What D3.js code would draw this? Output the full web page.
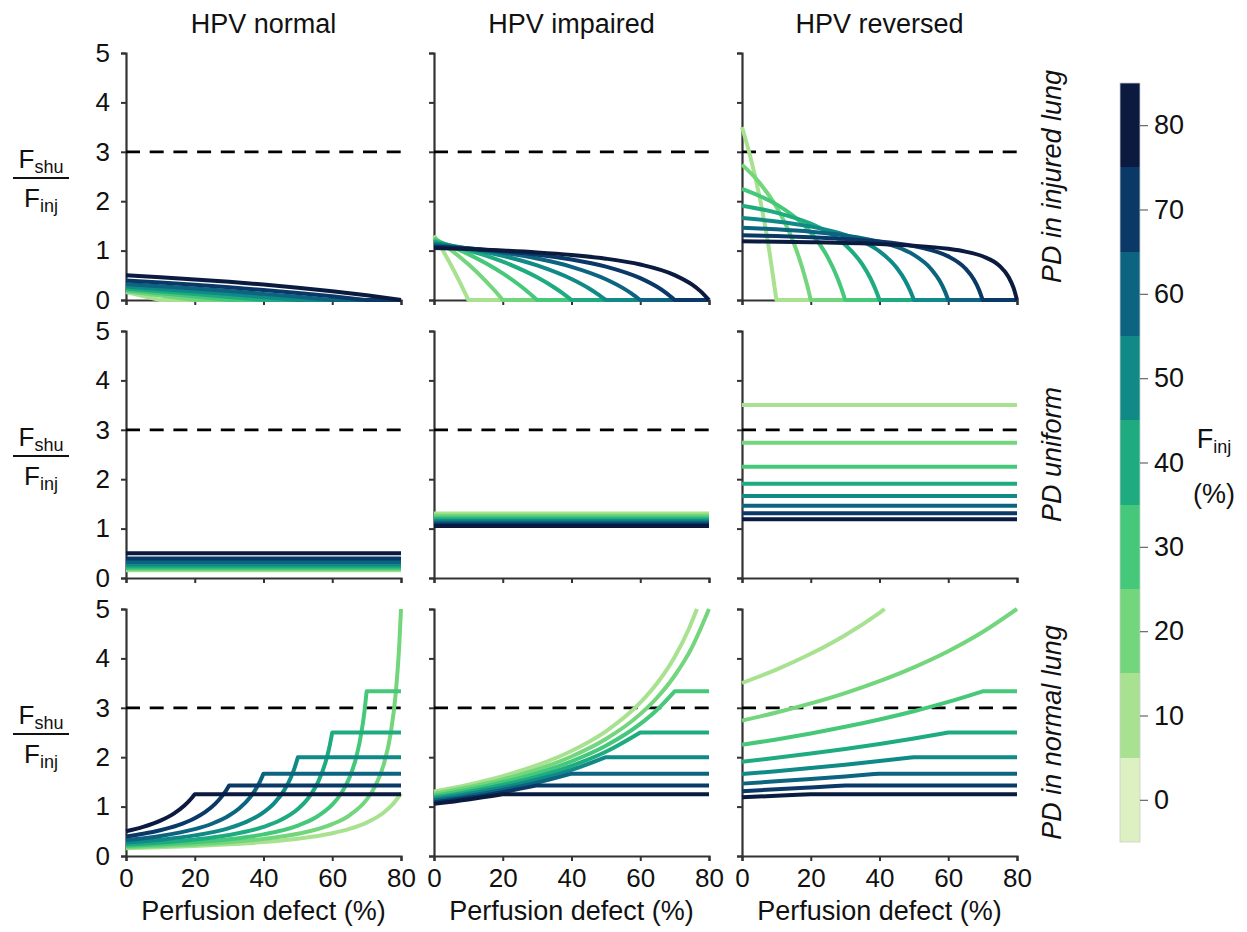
<!DOCTYPE html>
<html><head><meta charset="utf-8">
<script src="https://cdn.jsdelivr.net/npm/d3@7"></script>
<style>body{margin:0;background:#fff}svg{display:block}text{font-family:"Liberation Sans",Arial,sans-serif;fill:#111}</style>
</head><body><svg id="c" width="1247" height="932"></svg>
<script>
const fInj = [10,20,30,40,50,60,70,80];
const lineColors = ["#a8e290","#73d67c","#45c879","#1eab80","#0f8a86","#0c6481","#0b3967","#0b1a3f"];
const cbarValues = [0,10,20,30,40,50,60,70,80];
const cbarColors = ["#dcf0c2","#a8e290","#73d67c","#45c879","#1eab80","#0f8a86","#0c6481","#0b3967","#0b1a3f"];
const colTitles = ["HPV normal","HPV impaired","HPV reversed"];
const rowTitles = ["PD in injured lung","PD uniform","PD in normal lung"];
const xTicks = [0,20,40,60,80];
const yTicks = [0,1,2,3,4,5];
const threshold = 3;

const normalInjured = [
 [[0,.159],[5,.080],[10,0],[80,0]],
 [[0,.178],[10,.091],[20,0],[80,0]],
 [[0,.203],[10,.138],[20,.070],[30,0],[80,0]],
 [[0,.233],[10,.179],[20,.122],[30,.063],[40,0],[80,0]],
 [[0,.273],[10,.224],[20,.173],[30,.119],[40,.061],[50,0],[80,0]],
 [[0,.324],[10,.279],[20,.231],[30,.180],[40,.124],[50,.065],[60,0],[80,0]],
 [[0,.395],[10,.353],[20,.307],[30,.256],[40,.201],[50,.141],[60,.074],[70,0],[80,0]],
 [[0,.501],[10,.461],[20,.417],[30,.368],[40,.313],[50,.250],[60,.179],[70,.096],[80,0]]
];
const normalUniform = [.159,.178,.203,.233,.273,.324,.395,.501];
const normalNormal = [
 [[0,.159],[10,.178],[20,.203],[30,.236],[40,.282],[50,.350],[60,.461],[65,.548],[70,.676],[75,.881],[77.5,1.039],[80,1.266]],
 [[0,.178],[10,.203],[20,.235],[30,.279],[40,.345],[50,.449],[60,.645],[65,.824],[70,1.142],[72.5,1.415],[75,1.859],[77,2.483],[78.5,3.318],[79.5,4.277],[80,5.0]],
 [[0,.203],[10,.234],[20,.277],[30,.339],[40,.437],[50,.616],[55,.773],[60,1.039],[62.5,1.255],[65,1.584],[67,2.005],[68.5,2.504],[69.3,2.887],[70,3.333],[80,3.333]],
 [[0,.233],[10,.274],[20,.334],[30,.426],[40,.589],[45,.728],[50,.953],[53,1.170],[56,1.516],[58,1.887],[59,2.151],[60,2.5],[80,2.5]],
 [[0,.273],[10,.330],[20,.417],[30,.566],[35,.690],[40,.883],[43,1.060],[46,1.328],[48,1.596],[49,1.775],[50,2.0],[80,2.0]],
 [[0,.324],[10,.406],[20,.543],[25,.653],[30,.819],[33,.966],[36,1.179],[38,1.381],[39,1.510],[40,1.667],[80,1.667]],
 [[0,.395],[5,.450],[10,.521],[15,.619],[20,.764],[23,.887],[26,1.059],[28,1.217],[29,1.314],[30,1.429],[80,1.429]],
 [[0,.501],[5,.589],[10,.715],[14,.863],[17,1.021],[19,1.163],[20,1.25],[80,1.25]]
];

const impairedInjured = [
 [[0,1.304],[2.5,1.011],[5,.698],[7.5,.361],[10,0],[80,0]],
 [[0,1.262],[5,1.010],[10,.722],[15,.389],[17.5,.202],[20,0],[80,0]],
 [[0,1.222],[10,.928],[20,.539],[25,.293],[27.5,.153],[30,0],[80,0]],
 [[0,1.184],[10,1.007],[20,.776],[30,.459],[35,.253],[37.5,.133],[40,0],[80,0]],
 [[0,1.149],[10,1.038],[20,.895],[30,.701],[40,.425],[45,.238],[47.5,.126],[50,0],[80,0]],
 [[0,1.116],[10,1.047],[20,.957],[30,.839],[40,.672],[50,.421],[55,.241],[57.5,.130],[60,0],[80,0]],
 [[0,1.084],[10,1.042],[20,.989],[30,.918],[40,.821],[50,.677],[60,.443],[65,.262],[67.5,.144],[70,0],[80,0]],
 [[0,1.055],[10,1.032],[20,1.002],[30,.964],[40,.912],[50,.837],[60,.718],[70,.504],[75,.315],[77.5,.180],[80,0]]
];
const impairedUniform = [1.304,1.262,1.222,1.184,1.149,1.116,1.084,1.055];
const impairedNormal = [
 [[0,1.304],[10,1.444],[20,1.617],[30,1.837],[40,2.126],[50,2.523],[60,3.103],[65,3.506],[70,4.030],[74,4.576],[76.5,5.0]],
 [[0,1.262],[10,1.392],[20,1.552],[30,1.753],[40,2.015],[50,2.368],[60,2.872],[65,3.214],[70,3.649],[75,4.219],[80,5.0]],
 [[0,1.222],[10,1.343],[20,1.492],[30,1.677],[40,1.915],[50,2.231],[60,2.673],[65,2.967],[70,3.333],[80,3.333]],
 [[0,1.184],[10,1.298],[20,1.436],[30,1.607],[40,1.824],[50,2.109],[60,2.5],[80,2.5]],
 [[0,1.149],[10,1.256],[20,1.385],[30,1.543],[40,1.742],[50,2.0],[80,2.0]],
 [[0,1.116],[10,1.216],[20,1.337],[30,1.484],[40,1.667],[80,1.667]],
 [[0,1.084],[10,1.179],[20,1.292],[30,1.429],[80,1.429]],
 [[0,1.055],[10,1.144],[20,1.25],[80,1.25]]
];

const reversedInjured = [
 [[0,3.502],[2.5,2.878],[5,2.123],[7.5,1.187],[10,0],[80,0]],
 [[0,2.740],[5,2.381],[10,1.887],[15,1.163],[17.5,.658],[19,.286],[20,0],[80,0]],
 [[0,2.251],[10,1.936],[15,1.699],[20,1.364],[25,.858],[27.5,.492],[29,.216],[30,0],[80,0]],
 [[0,1.909],[10,1.770],[20,1.545],[25,1.370],[30,1.118],[35,.720],[37.5,.420],[39,.187],[40,0],[80,0]],
 [[0,1.658],[10,1.590],[20,1.488],[30,1.320],[35,1.185],[40,.985],[45,.653],[47.5,.390],[49,.177],[50,0],[80,0]],
 [[0,1.465],[10,1.431],[20,1.382],[30,1.307],[40,1.180],[45,1.075],[50,.913],[55,.629],[57.5,.388],[59,.180],[60,0],[80,0]],
 [[0,1.313],[10,1.295],[20,1.271],[30,1.237],[40,1.184],[50,1.091],[55,1.011],[60,.883],[65,.638],[67.5,.411],[69,.199],[70,0],[80,0]],
 [[0,1.189],[20,1.170],[40,1.133],[50,1.099],[60,1.036],[65,.980],[70,.885],[75,.685],[77.5,.472],[79,.244],[80,0]]
];
const reversedUniform = [3.502,2.740,2.251,1.909,1.658,1.465,1.313,1.189];
const reversedNormal = [
 [[0,3.502],[10,3.774],[20,4.093],[30,4.470],[40,4.924],[41.5,5.0]],
 [[0,2.740],[10,2.904],[20,3.089],[30,3.299],[40,3.540],[50,3.819],[60,4.145],[70,4.533],[80,5.0]],
 [[0,2.251],[10,2.360],[20,2.481],[30,2.615],[40,2.764],[50,2.931],[60,3.119],[70,3.333],[80,3.333]],
 [[0,1.909],[10,1.988],[20,2.073],[30,2.165],[40,2.266],[50,2.377],[60,2.5],[80,2.5]],
 [[0,1.658],[10,1.717],[20,1.780],[30,1.848],[40,1.921],[50,2.0],[80,2.0]],
 [[0,1.465],[10,1.511],[20,1.559],[30,1.611],[40,1.667],[80,1.667]],
 [[0,1.313],[10,1.349],[20,1.388],[30,1.429],[80,1.429]],
 [[0,1.189],[10,1.219],[20,1.25],[80,1.25]]
];

const panels = [
 [normalInjured, impairedInjured, reversedInjured],
 [normalUniform.map(v=>[[0,v],[80,v]]), impairedUniform.map(v=>[[0,v],[80,v]]), reversedUniform.map(v=>[[0,v],[80,v]])],
 [normalNormal, impairedNormal, reversedNormal]
];

const svg = d3.select("#c");
const FS = 26, FL = 27;
const colLeft = [126, 434, 742], pw = 275;
const rowTop = [53, 331, 609], ph = 247;
const axisColor = "#333";

const lineSmooth = d3.line().curve(d3.curveMonotoneX);

for (let r = 0; r < 3; r++) {
  for (let c = 0; c < 3; c++) {
    const x = d3.scaleLinear().domain([0,80]).range([colLeft[c], colLeft[c]+pw]);
    const y = d3.scaleLinear().domain([0,5]).range([rowTop[r]+ph, rowTop[r]]);
    const g = svg.append("g");
    const ya = g.append("g").attr("transform", `translate(${colLeft[c]},0)`)
      .call(d3.axisLeft(y).tickValues(yTicks).tickSize(5).tickPadding(11).tickFormat(c===0? d3.format("d") : ()=>""));
    const xa = g.append("g").attr("transform", `translate(0,${rowTop[r]+ph})`)
      .call(d3.axisBottom(x).tickValues(xTicks).tickSize(5).tickPadding(8).tickFormat(r===2? d3.format("d") : ()=>""));
    [ya, xa].forEach(a => {
      a.select(".domain").attr("stroke", axisColor).attr("stroke-width", 2.2);
      a.selectAll(".tick line").attr("stroke", axisColor).attr("stroke-width", 2);
      a.selectAll(".tick text").attr("font-size", FS).attr("fill", "#111")
        .style("font-family", '"Liberation Sans",Arial,sans-serif');
    });
    g.append("line").attr("x1", x(0)).attr("x2", x(80)).attr("y1", y(threshold)).attr("y2", y(threshold))
      .attr("stroke", "#000").attr("stroke-width", 2.8).attr("stroke-dasharray", "14,9.7");
    panels[r][c].forEach((pts, i) => {
      const n = pts.length;
      const flatTail = n > 2 && pts[n-1][1] === pts[n-2][1];
      const smooth = flatTail ? pts.slice(0, n-1) : pts;
      const sp = smooth.map(p => [x(p[0]), y(p[1])]);
      let d = sp.length > 1 ? lineSmooth(sp) : "";
      if (flatTail) {
        const a = [x(pts[n-2][0]), y(pts[n-2][1])], b = [x(pts[n-1][0]), y(pts[n-1][1])];
        d += (sp.length > 1 ? "" : `M${a[0]},${a[1]}`) + `L${b[0]},${b[1]}`;
      }
      g.append("path").attr("d", d).attr("fill", "none")
        .attr("stroke", lineColors[i]).attr("stroke-width", 4).attr("stroke-linejoin", "round");
    });
  }
  const cx = 41, base = rowTop[r] + 115;
  const t1 = svg.append("text").attr("x", cx).attr("y", base).attr("text-anchor", "middle").attr("font-size", FS);
  t1.append("tspan").text("F");
  t1.append("tspan").attr("font-size", 18).attr("dy", 5).text("shu");
  svg.append("line").attr("x1", 13).attr("x2", 69).attr("y1", rowTop[r]+125).attr("y2", rowTop[r]+125)
    .attr("stroke", "#111").attr("stroke-width", 2.2);
  const t2 = svg.append("text").attr("x", cx).attr("y", base + 39).attr("text-anchor", "middle").attr("font-size", FS);
  t2.append("tspan").text("F");
  t2.append("tspan").attr("font-size", 18).attr("dy", 5).text("inj");
  svg.append("text").attr("transform", `translate(1061,${rowTop[r]+ph/2}) rotate(-90)`)
    .attr("text-anchor", "middle").attr("font-size", FL).attr("font-style", "italic").text(rowTitles[r]);
}
for (let c = 0; c < 3; c++) {
  svg.append("text").attr("x", colLeft[c] + pw/2).attr("y", 33).attr("text-anchor", "middle")
    .attr("font-size", FL).text(colTitles[c]);
  svg.append("text").attr("x", colLeft[c] + pw/2).attr("y", 920).attr("text-anchor", "middle")
    .attr("font-size", FL).text("Perfusion defect (%)");
}
const cb = d3.scaleLinear().domain([-5,85]).range([842, 83]);
const cbx = 1120, cbw = 20;
svg.append("g").selectAll("rect").data(cbarValues).join("rect")
  .attr("x", cbx).attr("width", cbw)
  .attr("y", v => cb(v+5)).attr("height", v => cb(v-5) - cb(v+5))
  .attr("fill", (v,i) => cbarColors[i]).attr("shape-rendering", "crispEdges");
svg.append("rect").attr("x", cbx).attr("y", cb(85)).attr("width", cbw).attr("height", cb(-5)-cb(85))
  .attr("fill", "none").attr("stroke", "#ccc").attr("stroke-width", 0.8);
const cbAxis = svg.append("g").attr("transform", `translate(${cbx+cbw},0)`)
  .call(d3.axisRight(cb).tickValues(cbarValues).tickSize(8).tickPadding(6).tickFormat(d3.format("d")));
cbAxis.select(".domain").remove();
cbAxis.selectAll(".tick line").attr("stroke", "#666").attr("stroke-width", 1.2);
cbAxis.selectAll(".tick text").attr("font-size", FL).attr("fill", "#111")
  .style("font-family", '"Liberation Sans",Arial,sans-serif');
const fl = svg.append("text").attr("x", 1214).attr("y", 448).attr("text-anchor", "middle").attr("font-size", FL);
fl.append("tspan").text("F");
fl.append("tspan").attr("font-size", 18).attr("dy", 5).text("inj");
svg.append("text").attr("x", 1214).attr("y", 503).attr("text-anchor", "middle").attr("font-size", FL).text("(%)");
</script></body></html>
